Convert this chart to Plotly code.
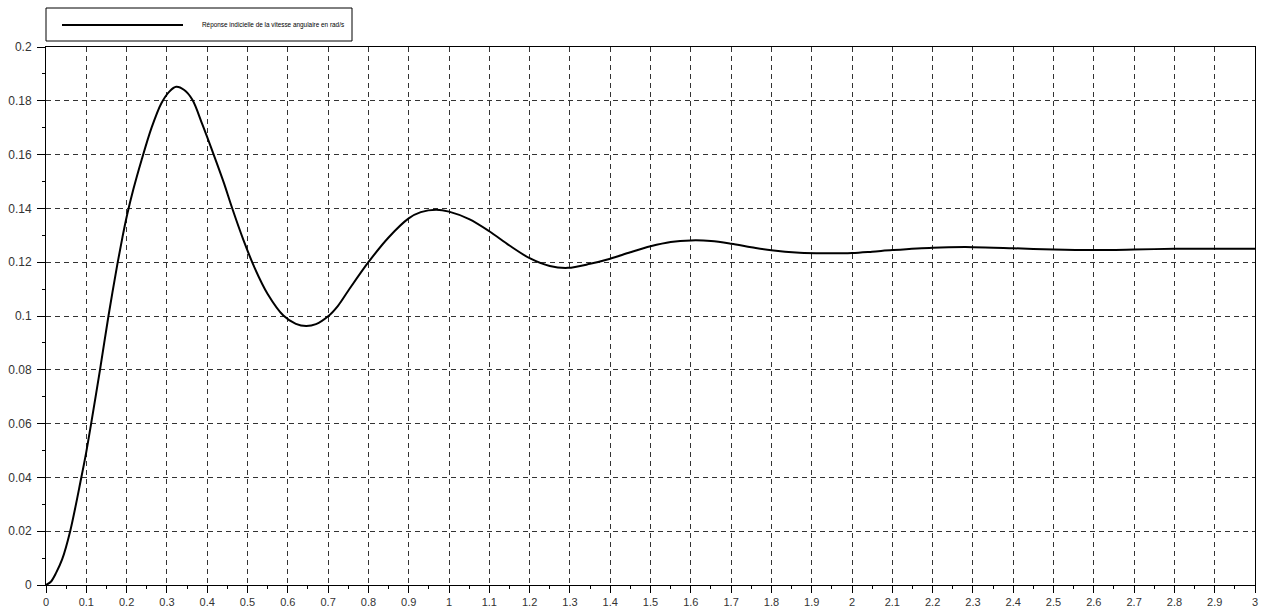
import plotly.graph_objects as go

# ---- data ----
series_name = "Réponse indicielle de la vitesse angulaire en rad/s"
t_values = [0, 0.012, 0.025, 0.04, 0.06, 0.087, 0.1, 0.112, 0.134, 0.155, 0.178,
            0.19, 0.2016, 0.2166, 0.2372, 0.262, 0.286, 0.3066, 0.323, 0.343, 0.3636,
            0.388, 0.4197, 0.442, 0.461, 0.49, 0.518, 0.55, 0.589, 0.62, 0.6455, 0.67,
            0.7, 0.725, 0.75, 0.8, 0.85, 0.9, 0.93, 0.968, 1.0, 1.05, 1.1, 1.15, 1.2,
            1.25, 1.295, 1.35, 1.4, 1.45, 1.5, 1.55, 1.6, 1.65, 1.7, 1.75, 1.8, 1.87,
            1.93, 2.0, 2.05, 2.1, 2.2, 2.3, 2.4, 2.5, 2.6, 2.7, 2.8, 2.9, 3.0]
omega_values = [0, 0.0012, 0.0045, 0.0095, 0.02, 0.0395, 0.0495, 0.06, 0.08, 0.1, 0.12,
                0.1295, 0.1378, 0.1470, 0.1580, 0.1700, 0.1790, 0.1835, 0.1852, 0.1840, 0.1803,
                0.1712, 0.1585, 0.1492, 0.1405, 0.1282, 0.1178, 0.1082, 0.1002, 0.0971, 0.0963, 0.0970,
                0.0999, 0.1039, 0.1094, 0.12, 0.1292, 0.1363, 0.1386, 0.1395, 0.1388, 0.136, 0.1315, 0.1262, 0.1215,
                0.1186, 0.1179, 0.1194, 0.1213, 0.1237, 0.1259, 0.1275, 0.1281, 0.1279, 0.1269, 0.1256, 0.1244, 0.1235,
                0.1233, 0.1234, 0.1239, 0.1245, 0.1254, 0.1256, 0.1252, 0.1247, 0.1245, 0.1247, 0.125, 0.125, 0.125]
x_ticks = [round(0.1 * i, 1) for i in range(31)]
x_tick_labels = ["0" if v == 0 else ("%g" % v) for v in x_ticks]
y_ticks = [round(0.02 * i, 2) for i in range(11)]
y_tick_labels = ["0" if v == 0 else ("%g" % v) for v in y_ticks]

FONT = "Liberation Sans, Arial, sans-serif"

fig = go.Figure()
fig.add_trace(go.Scatter(
    x=t_values, y=omega_values, mode="lines", name=series_name,
    line=dict(color="black", width=2, shape="spline", smoothing=0.9),
    showlegend=False,
))

axis_common = dict(
    showline=True, linecolor="black", linewidth=1, mirror=True,
    showgrid=True, gridcolor="#333333", gridwidth=1, griddash="5px,4px",
    ticks="outside", tickcolor="black", tickwidth=1,
    zeroline=False, automargin=False, ticklabeloverflow="allow",
    minor=dict(ticks="outside", ticklen=3, tickcolor="black", showgrid=False),
)

fig.update_xaxes(range=[0, 3], tickvals=x_ticks, ticktext=x_tick_labels,
                 minor_dtick=0.05, ticklen=7, ticklabelstandoff=0,
                 tickfont=dict(family=FONT, size=11, color="#333333"),
                 **axis_common)
fig.update_yaxes(range=[0, 0.2], tickvals=y_ticks, ticktext=y_tick_labels,
                 minor_dtick=0.01, ticklen=8, ticklabelstandoff=3,
                 tickfont=dict(family=FONT, size=12, color="#333333"),
                 **axis_common)

# custom legend box (Scilab style)
plot_h = 610 - 47 - 25
plot_w = 1262 - 46 - 7
def px_x(p):
    return (p - 46) / plot_w
def px_y(p):
    return (585 - p) / plot_h

fig.add_shape(type="rect", xref="paper", yref="paper",
              x0=px_x(46), x1=px_x(352), y0=px_y(41), y1=px_y(8),
              line=dict(color="black", width=1), fillcolor="white")
fig.add_shape(type="line", xref="paper", yref="paper",
              x0=px_x(62), x1=px_x(183), y0=px_y(25), y1=px_y(25),
              line=dict(color="black", width=2))
fig.add_annotation(xref="paper", yref="paper", x=px_x(200), y=px_y(25),
                   xanchor="left", yanchor="middle", showarrow=False,
                   text=series_name,
                   font=dict(family=FONT, size=6.4, color="black"))

fig.update_layout(
    width=1262, height=610, autosize=False,
    margin=dict(l=46, r=7, t=47, b=25),
    paper_bgcolor="white", plot_bgcolor="white",
    font=dict(family=FONT),
)

fig.write_html(
    "out.html",
    config={"displayModeBar": False},
    post_script="document.body.style.margin='0';document.body.style.overflow='hidden';",
)
